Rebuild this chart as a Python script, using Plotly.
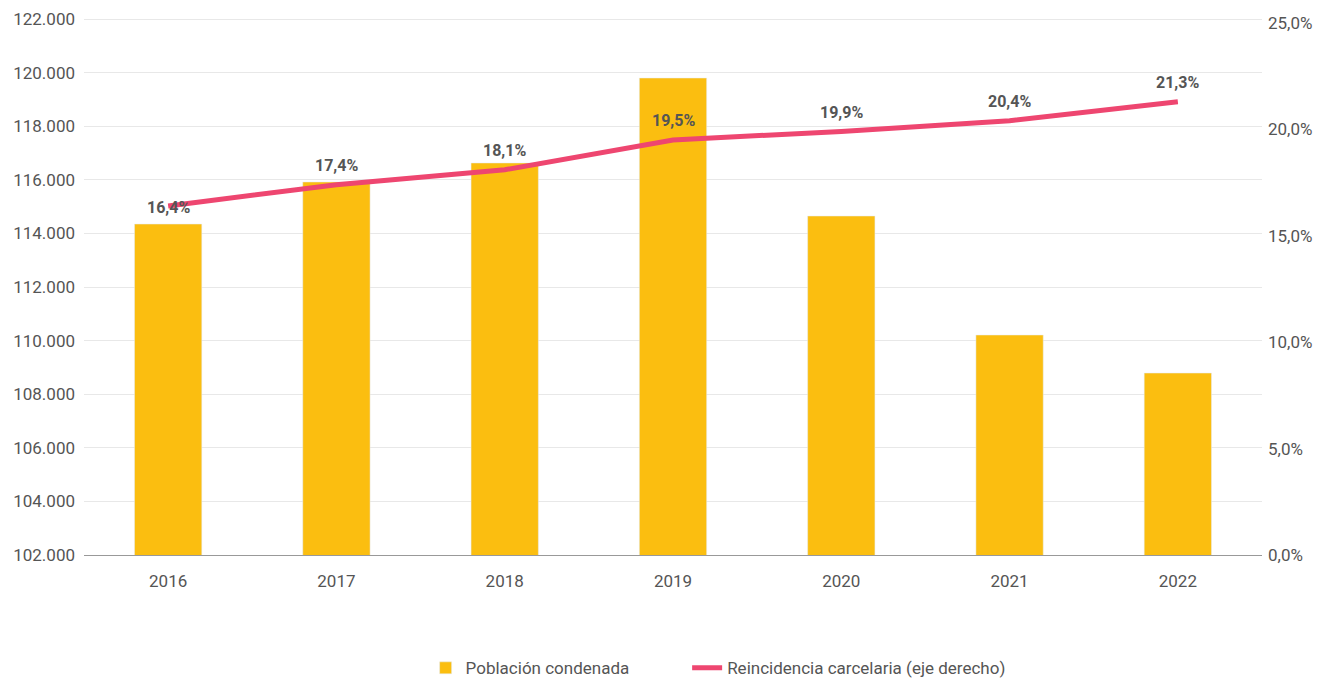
import plotly.graph_objects as go

years = ["2016", "2017", "2018", "2019", "2020", "2021", "2022"]
poblacion = [114350, 115920, 116630, 119800, 114650, 110210, 108790]
reincidencia = [16.4, 17.4, 18.1, 19.5, 19.9, 20.4, 21.3]
label_shift = [-2, 19, 19, 19, 19, 19, 19]
pct_ticks = [0, 5, 10, 15, 20, 25]

BAR = "#FBBE10"
LINE = "#EE4670"
TXT = "#555555"
FONT = "Roboto"

fig = go.Figure()
fig.add_trace(go.Bar(x=years, y=poblacion, name="Población condenada",
                     marker_color=BAR, yaxis="y", legend="legend", showlegend=True))
fig.add_trace(go.Scatter(x=years, y=reincidencia, name="Reincidencia carcelaria (eje derecho)",
                         mode="lines", line=dict(color=LINE, width=5), yaxis="y2",
                         legend="legend2", showlegend=True))

for i, (v, s) in enumerate(zip(reincidencia, label_shift)):
    fig.add_annotation(x=i, y=v, yref="y2", xref="x", text=f"<b>{v:.1f}%</b>".replace(".", ","),
                       showarrow=False, yshift=s, font=dict(family=FONT, size=16, color=TXT))

leg_common = dict(orientation="h", xanchor="left", y=-0.211, yanchor="middle",
                  font=dict(size=17, color=TXT), bgcolor="rgba(0,0,0,0)", visible=True)

fig.update_layout(
    width=1326, height=682,
    showlegend=True,
    margin=dict(l=84, r=64, t=18, b=127, autoexpand=False),
    paper_bgcolor="white", plot_bgcolor="white",
    separators=",.",
    bargap=0.6,
    font=dict(family=FONT, size=17, color=TXT),
    xaxis=dict(type="category", range=[-0.5, 6.5], showline=True, linecolor="#999999",
               linewidth=1, ticks="", tickfont=dict(size=17, color=TXT), showgrid=False,
               ticklabelstandoff=11),
    yaxis=dict(range=[102000, 122040], dtick=2000, tickformat=",.0f",
               showgrid=True, gridcolor="#e8e8e8", gridwidth=1, zeroline=False,
               tickfont=dict(size=17, color=TXT), ticks="", ticklabelstandoff=8),
    yaxis2=dict(range=[0, 25.23], tickvals=pct_ticks,
                ticktext=[f"{t:.1f}%".replace(".", ",") for t in pct_ticks],
                overlaying="y", side="right", showgrid=False,
                zeroline=False, tickfont=dict(size=17, color=TXT), ticklabelstandoff=5),
    legend=dict(x=0.290, **leg_common),
    legend2=dict(x=0.512, **leg_common),
)

fig.write_html("out.html")
